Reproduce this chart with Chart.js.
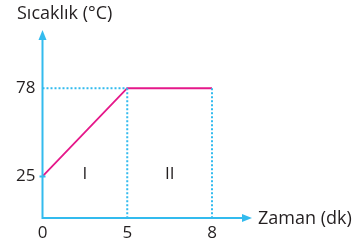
<!DOCTYPE html>
<html>
<head>
<meta charset="utf-8">
<script src="https://cdn.jsdelivr.net/npm/chart.js@4"></script>
<style>
    html, body { margin: 0; padding: 0; background: #fff; }
    #wrap { width: 363px; height: 245px; position: relative; }
</style>
</head>
<body>
<div id="wrap"><canvas id="heatChart"></canvas></div>
<script>
// time (dk) categories and temperature (°C) values
const timeLabels = ['0', '5', '8'];
const temperature = [25, 78, 78];
const yTickValues = [25, 78];
const regionLabels = ['I', 'II'];
const yTitle = 'Sıcaklık (°C)';
const xTitle = 'Zaman (dk)';

const axisColor = '#33bbee';
const lineColor = '#e5188a';
const textColor = '#231f20';
const font = 'Open Sans';

// dotted guide lines built from the plateau point
const plateauStart = { x: timeLabels[1], y: temperature[1] };
const plateauEnd = { x: timeLabels[2], y: temperature[2] };

const guideStyle = {
    borderColor: axisColor,
    borderWidth: 2,
    borderDash: [2, 2],
    pointRadius: 0,
    fill: false
};

// axes with arrows, axis titles and region labels
const axesPlugin = {
    id: 'axesPlugin',
    afterDatasetsDraw(chart) {
        const { ctx, chartArea, scales } = chart;
        const left = chartArea.left, bottom = chartArea.bottom;
        const xEnd = chartArea.right + 40, yEnd = chartArea.top;

        ctx.save();
        ctx.strokeStyle = axisColor;
        ctx.fillStyle = axisColor;
        ctx.lineWidth = 2;
        ctx.beginPath();
        ctx.moveTo(left, bottom);
        ctx.lineTo(left, yEnd + 6);
        ctx.moveTo(left - 1, bottom);
        ctx.lineTo(xEnd - 6, bottom);
        // small tick at the starting temperature
        const y25 = scales.y.getPixelForValue(yTickValues[0]);
        ctx.moveTo(left - 3, y25);
        ctx.lineTo(left + 3, y25);
        ctx.stroke();

        ctx.beginPath();
        ctx.moveTo(left, yEnd);
        ctx.lineTo(left - 4, yEnd + 10);
        ctx.lineTo(left + 4, yEnd + 10);
        ctx.closePath();
        ctx.fill();
        ctx.beginPath();
        ctx.moveTo(xEnd, bottom);
        ctx.lineTo(xEnd - 10, bottom - 4);
        ctx.lineTo(xEnd - 10, bottom + 4);
        ctx.closePath();
        ctx.fill();

        ctx.fillStyle = textColor;
        ctx.font = '18px "' + font + '"';
        ctx.textBaseline = 'middle';
        ctx.textAlign = 'left';
        ctx.fillText(yTitle, 17, 14);
        ctx.fillText(xTitle, xEnd + 6, bottom + 1);

        // roman numerals centred between categories
        ctx.font = '17px "' + font + '"';
        ctx.textAlign = 'center';
        const yl = scales.y.getPixelForValue(yTickValues[0]);
        regionLabels.forEach((lab, i) => {
            const xa = scales.x.getPixelForValue(i);
            const xb = scales.x.getPixelForValue(i + 1);
            ctx.fillText(lab, (xa + xb) / 2, yl - 2);
        });
        ctx.restore();
    }
};

new Chart(document.getElementById('heatChart'), {
    type: 'line',
    data: {
        labels: timeLabels,
        datasets: [
            Object.assign({ data: [{ x: timeLabels[0], y: temperature[1] }, plateauStart] }, guideStyle),
            Object.assign({ data: [plateauStart, { x: timeLabels[1], y: 0 }] }, guideStyle),
            Object.assign({ data: [plateauEnd, { x: timeLabels[2], y: 0 }] }, guideStyle),
            {
                data: temperature,
                borderColor: lineColor,
                borderWidth: 1.8,
                pointRadius: 0,
                tension: 0,
                fill: false
            }
        ]
    },
    options: {
        responsive: true,
        maintainAspectRatio: false,
        animation: false,
        layout: { padding: { left: 12, right: 151, top: 30, bottom: 0 } },
        scales: {
            x: {
                type: 'category',
                offset: false,
                grid: { display: false, drawTicks: false },
                border: { display: false },
                ticks: {
                    color: textColor,
                    font: { size: 17, family: font },
                    padding: 5,
                    maxRotation: 0
                },
                afterFit: s => { s.height = 27; }
            },
            y: {
                min: 0,
                max: 113,
                grid: { display: false, drawTicks: false },
                border: { display: false },
                afterBuildTicks: s => { s.ticks = yTickValues.map(v => ({ value: v })); },
                ticks: {
                    color: textColor,
                    font: { size: 17, family: font },
                    padding: 7
                },
                afterFit: s => { s.width = 30.5; }
            }
        },
        plugins: {
            legend: { display: false },
            tooltip: { enabled: false }
        }
    },
    plugins: [axesPlugin]
});
</script>
</body>
</html>
